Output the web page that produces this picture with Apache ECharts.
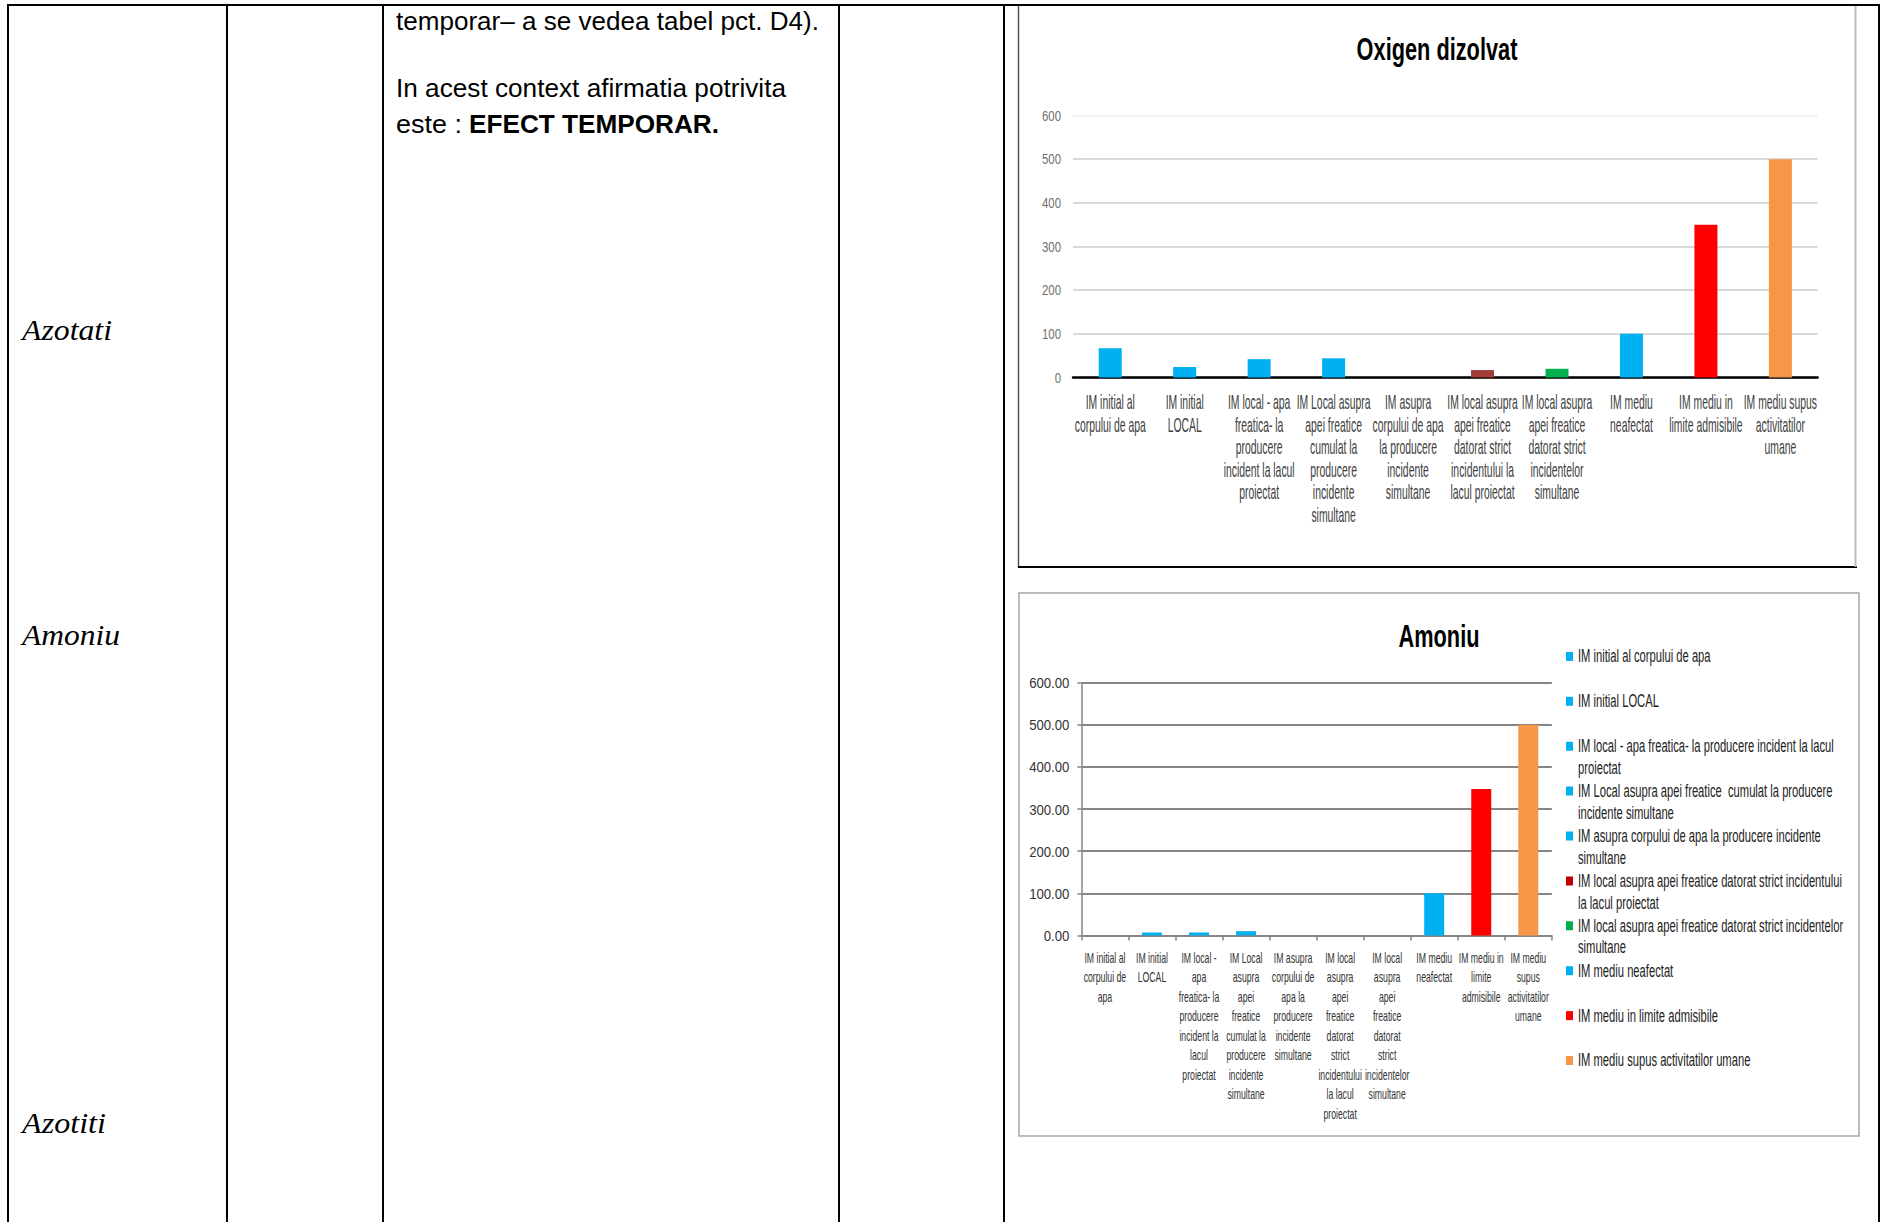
<!DOCTYPE html>
<html>
<head>
<meta charset="utf-8">
<script src="https://cdn.jsdelivr.net/npm/echarts@6/dist/echarts.min.js"></script>
<style>
  html, body { margin: 0; padding: 0; background: #fff; width: 1881px; height: 1222px; overflow: hidden; }
  #page { position: absolute; left: 0; top: 0; }
  #oxigen { position: absolute; left: 1018px; top: 5px; width: 838px; height: 562px; }
  #amoniu { position: absolute; left: 1019px; top: 593px; width: 840px; height: 543px; }
</style>
</head>
<body>
<svg id="page" width="1881" height="1222" xmlns="http://www.w3.org/2000/svg">
  <!-- table grid -->
  <g stroke="#000" stroke-width="2" fill="none">
    <line x1="7" y1="5" x2="1880" y2="5"/>
    <line x1="8" y1="5" x2="8" y2="1222"/>
    <line x1="227" y1="5" x2="227" y2="1222"/>
    <line x1="383" y1="5" x2="383" y2="1222"/>
    <line x1="839" y1="5" x2="839" y2="1222"/>
    <line x1="1004" y1="5" x2="1004" y2="1222"/>
    <line x1="1879" y1="5" x2="1879" y2="1222"/>
  </g>
  <!-- frames of the two embedded charts -->
  <g fill="none">
    <line x1="1018.5" y1="6" x2="1018.5" y2="567" stroke="#555" stroke-width="1.5"/>
    <line x1="1018" y1="567" x2="1857" y2="567" stroke="#000" stroke-width="2"/>
    <line x1="1855.5" y1="6" x2="1855.5" y2="567" stroke="#BBBBBB" stroke-width="2"/>
    <rect x="1019" y="593" width="840" height="543" stroke="#A6A6A6" stroke-width="1.5"/>
  </g>
  <!-- cell text -->
  <g font-family="'Liberation Sans', Arial, sans-serif" font-size="25" fill="#000">
    <text x="396" y="30" textLength="423" lengthAdjust="spacingAndGlyphs">temporar– a se vedea tabel pct. D4).</text>
    <text x="396" y="96.5" textLength="390" lengthAdjust="spacingAndGlyphs">In acest context afirmatia potrivita</text>
    <text x="396" y="133" textLength="66" lengthAdjust="spacingAndGlyphs">este :</text>
    <text x="469" y="133" textLength="250" lengthAdjust="spacingAndGlyphs" font-weight="bold">EFECT TEMPORAR.</text>
  </g>
  <g font-family="'Liberation Serif', 'Times New Roman', serif" font-style="italic" font-size="30" fill="#000">
    <text x="22" y="340" textLength="90" lengthAdjust="spacingAndGlyphs">Azotati</text>
    <text x="22" y="645" textLength="98" lengthAdjust="spacingAndGlyphs">Amoniu</text>
    <text x="22" y="1133" textLength="84" lengthAdjust="spacingAndGlyphs">Azotiti</text>
  </g>
</svg>
<div id="oxigen"></div>
<div id="amoniu"></div>
<script>
// Indicator categories (also the legend names of the Amoniu chart)
const categories = [
  'IM initial al corpului de apa',
  'IM initial LOCAL',
  'IM local - apa freatica- la producere incident la lacul proiectat',
  'IM Local asupra apei freatice  cumulat la producere incidente simultane',
  'IM asupra corpului de apa la producere incidente simultane',
  'IM local asupra apei freatice datorat strict incidentului la lacul proiectat',
  'IM local asupra apei freatice datorat strict incidentelor simultane',
  'IM mediu neafectat',
  'IM mediu in limite admisibile',
  'IM mediu supus activitatilor umane'
];

// Wrapped tick labels of the "Oxigen dizolvat" chart
const oxigenTickLabels = [
  'IM initial al\ncorpului de apa',
  'IM initial\nLOCAL',
  'IM local - apa\nfreatica- la\nproducere\nincident la lacul\nproiectat',
  'IM Local asupra\napei freatice\ncumulat la\nproducere\nincidente\nsimultane',
  'IM asupra\ncorpului de apa\nla producere\nincidente\nsimultane',
  'IM local asupra\napei freatice\ndatorat strict\nincidentului la\nlacul proiectat',
  'IM local asupra\napei freatice\ndatorat strict\nincidentelor\nsimultane',
  'IM mediu\nneafectat',
  'IM mediu in\nlimite admisibile',
  'IM mediu supus\nactivitatilor\numane'
];

// Wrapped tick labels of the "Amoniu" chart
const amoniuTickLabels = [
  'IM initial al\ncorpului de\napa',
  'IM initial\nLOCAL',
  'IM local -\napa\nfreatica- la\nproducere\nincident la\nlacul\nproiectat',
  'IM Local\nasupra\napei\nfreatice\ncumulat la\nproducere\nincidente\nsimultane',
  'IM asupra\ncorpului de\napa la\nproducere\nincidente\nsimultane',
  'IM local\nasupra\napei\nfreatice\ndatorat\nstrict\nincidentului\nla lacul\nproiectat',
  'IM local\nasupra\napei\nfreatice\ndatorat\nstrict\nincidentelor\nsimultane',
  'IM mediu\nneafectat',
  'IM mediu in\nlimite\nadmisibile',
  'IM mediu\nsupus\nactivitatilor\numane'
];

// Wrapped legend entries of the "Amoniu" chart
const amoniuLegendLabels = [
  'IM initial al corpului de apa',
  'IM initial LOCAL',
  'IM local - apa freatica- la producere incident la lacul\nproiectat',
  'IM Local asupra apei freatice  cumulat la producere\nincidente simultane',
  'IM asupra corpului de apa la producere incidente\nsimultane',
  'IM local asupra apei freatice datorat strict incidentului\nla lacul proiectat',
  'IM local asupra apei freatice datorat strict incidentelor\nsimultane',
  'IM mediu neafectat',
  'IM mediu in limite admisibile',
  'IM mediu supus activitatilor umane'
];

// Impact index values
const oxigenValues = [67, 24, 42, 44, 0, 17, 20, 100, 350, 500];
const amoniuValues = [0, 7, 7, 10, 0, 0, 0, 100, 348, 500];

// Bar colours per category
const oxigenColors = ['#00B0F0', '#00B0F0', '#00B0F0', '#00B0F0', '#00B0F0', '#A33B36', '#00B050', '#00B0F0', '#FF0000', '#F79646'];
const amoniuColors = ['#00B0F0', '#00B0F0', '#00B0F0', '#00B0F0', '#00B0F0', '#C00000', '#00B050', '#00B0F0', '#FF0000', '#F79646'];

const FONT = "'Liberation Sans', Arial, sans-serif";

// The chart texts use a horizontally squeezed face: each font size gets its own width factor.
function condense(chart, factors) {
  chart.getDom().querySelectorAll('text').forEach(t => {
    if (t.dataset.condensed) return;
    const fs = parseFloat(getComputedStyle(t).fontSize);
    const key = Object.keys(factors).find(k => Math.abs(parseFloat(k) - fs) < 0.05);
    if (!key) return;
    const s = factors[key];
    const x = parseFloat(t.getAttribute('x') || '0');
    const y = parseFloat(t.getAttribute('y') || '0');
    const base = t.getAttribute('transform') || '';
    t.setAttribute('transform', base + ' translate(' + x + ' ' + y + ') scale(' + s + ' 1) translate(' + (-x) + ' ' + (-y) + ')');
    t.dataset.condensed = '1';
  });
}

// ---- Oxigen dizolvat ----
const oxChart = echarts.init(document.getElementById('oxigen'), null, { renderer: 'svg' });
oxChart.setOption({
  animation: false,
  title: {
    text: 'Oxigen dizolvat', left: 'center', top: 28, padding: 0,
    textStyle: { fontFamily: FONT, fontWeight: 'bold', fontSize: 32, color: '#000' }
  },
  grid: { left: 55, top: 110.5, width: 744.6, height: 262 },
  xAxis: {
    type: 'category',
    data: categories,
    axisLine: { lineStyle: { color: '#000', width: 2.5 } },
    axisTick: { show: false },
    axisLabel: {
      interval: 0, margin: 13.5,
      formatter: (v, i) => oxigenTickLabels[i],
      fontFamily: FONT, fontSize: 20, lineHeight: 22.5, color: '#404040'
    }
  },
  yAxis: {
    type: 'value', min: 0, max: 600, interval: 100,
    axisLine: { show: false },
    axisTick: { show: false },
    axisLabel: { margin: 12, fontFamily: FONT, fontSize: 15, color: '#707070' },
    splitLine: { lineStyle: { color: ['#D9D9D9', '#D9D9D9', '#D9D9D9', '#D9D9D9', '#D9D9D9', '#D9D9D9', '#EEF1F6'], width: 2 } }
  },
  series: [{
    type: 'bar',
    barWidth: 23,
    data: oxigenValues.map((v, i) => ({ value: v, itemStyle: { color: oxigenColors[i] } }))
  }]
});
const oxFactors = { '32': 0.68, '20': 0.52, '15': 0.76 };
condense(oxChart, oxFactors);
oxChart.on('finished', () => condense(oxChart, oxFactors));

// ---- Amoniu ----
const LEGEND_FONT = 17.5;
const LEGEND_LINE = 21.7;
// A two-line entry keeps its swatch beside the first line: the icon box is taller
// than the visible swatch, with an empty point marking its lower end.
const TALL_ICON_H = LEGEND_LINE + 9;
const tallIcon = 'path://M0 0H7V9H0Z M0 ' + TALL_ICON_H + 'H0.001Z';
const amChart = echarts.init(document.getElementById('amoniu'), null, { renderer: 'svg' });
const amLegends = categories.map((name, i) => {
  const twoLines = amoniuLegendLabels[i].indexOf('\n') >= 0;
  return {
    left: 547,
    top: 63.4 + i * 44.9 - LEGEND_LINE / 2,
    padding: 0,
    orient: 'vertical',
    icon: twoLines ? tallIcon : 'rect',
    itemWidth: 7,
    itemHeight: twoLines ? TALL_ICON_H : 9,
    selectedMode: false,
    formatter: () => amoniuLegendLabels[i],
    textStyle: { fontFamily: FONT, fontSize: LEGEND_FONT, lineHeight: LEGEND_LINE, color: '#222' },
    data: [name]
  };
});
amChart.setOption({
  animation: false,
  title: {
    text: 'Amoniu', left: 'center', top: 27, padding: 0,
    textStyle: { fontFamily: FONT, fontWeight: 'bold', fontSize: 32, color: '#000' }
  },
  legend: amLegends,
  grid: { left: 59.6, top: 89.9, width: 473.2, height: 252.5 },
  xAxis: {
    type: 'category',
    data: categories,
    axisLine: { lineStyle: { color: '#868686', width: 1.5 } },
    axisTick: { show: true, length: 5, lineStyle: { color: '#868686', width: 1.5 } },
    axisLabel: {
      interval: 0, margin: 12.5,
      formatter: (v, i) => amoniuTickLabels[i],
      fontFamily: FONT, fontSize: 15, lineHeight: 19.5, color: '#333'
    }
  },
  yAxis: {
    type: 'value', min: 0, max: 600, interval: 100,
    axisLine: { show: true, lineStyle: { color: '#868686', width: 1.5 } },
    axisTick: { show: true, length: 4, lineStyle: { color: '#868686', width: 1.5 } },
    axisLabel: { margin: 12, fontFamily: FONT, fontSize: 15.5, color: '#333', formatter: v => v.toFixed(2) },
    splitLine: { lineStyle: { color: '#868686', width: 2 } }
  },
  series: categories.map((name, i) => ({
    name: name,
    type: 'bar',
    stack: 'im',
    barWidth: 20,
    itemStyle: { color: amoniuColors[i] },
    data: amoniuValues.map((v, j) => (j === i ? v : null))
  }))
});
const amFactors = { '32': 0.68, '15': 0.58, '15.5': 0.85, '17.5': 0.64 };
condense(amChart, amFactors);
amChart.on('finished', () => condense(amChart, amFactors));
</script>
</body>
</html>
